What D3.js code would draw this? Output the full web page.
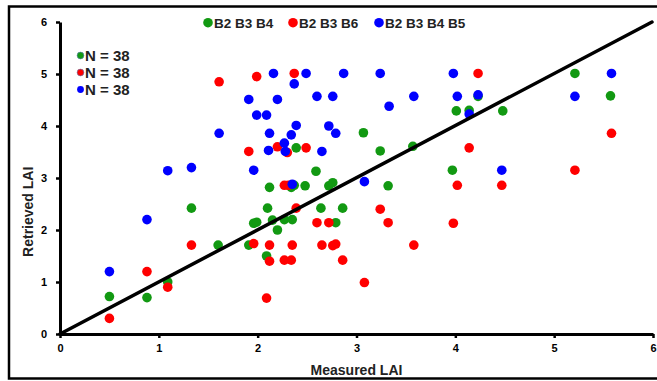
<!DOCTYPE html>
<html>
<head>
<meta charset="utf-8">
<script src="https://cdn.jsdelivr.net/npm/d3@7"></script>
<style>
  html, body { margin: 0; padding: 0; background: #fff; }
  svg { display: block; font-family: "Liberation Sans", Arial, sans-serif; }
</style>
</head>
<body>
<div id="chart"></div>
<script>
// Measured vs retrieved LAI, three band combinations
const seriesNames = ['B2 B3 B4', 'B2 B3 B6', 'B2 B3 B4 B5'];
const seriesColors = ['#129912', '#ff0000', '#0000ff'];

const greenPts = [
  [0.50, 0.72], [0.88, 0.70], [1.09, 1.00], [1.33, 2.42], [1.60, 1.71], [1.91, 1.71],
  [1.96, 2.13], [1.99, 2.15], [2.09, 1.50], [2.10, 2.42], [2.12, 2.82], [2.15, 2.19],
  [2.20, 2.00], [2.27, 2.20], [2.35, 2.20], [2.34, 2.82], [2.37, 2.86], [2.48, 2.85],
  [2.64, 2.42], [2.72, 2.85], [2.76, 2.91], [2.59, 3.13], [3.32, 2.85], [2.86, 2.42],
  [2.79, 2.14], [3.07, 3.87], [3.24, 3.52], [3.57, 3.61], [2.39, 3.58], [5.21, 5.01],
  [5.57, 4.58], [4.01, 4.29], [4.14, 4.30], [4.48, 4.29], [4.23, 4.57], [3.97, 3.15]
];

const redPts = [
  [0.50, 0.30], [0.88, 1.20], [1.09, 0.90], [1.33, 1.71], [1.61, 4.85], [1.99, 4.95],
  [2.37, 5.01], [1.91, 3.51], [2.20, 3.60], [2.49, 3.58], [2.30, 3.49], [2.27, 2.86],
  [2.31, 2.86], [4.23, 5.01], [5.58, 3.86], [4.14, 3.58], [5.21, 3.15], [4.02, 2.86],
  [4.47, 2.86], [1.96, 1.74], [2.12, 1.71], [2.12, 1.40], [2.09, 0.69], [2.27, 1.42],
  [2.34, 1.42], [2.35, 1.71], [2.39, 2.42], [2.60, 2.14], [2.65, 1.71], [2.72, 2.14],
  [3.24, 2.40], [3.32, 2.14], [2.76, 1.70], [2.79, 1.73], [2.86, 1.42], [3.08, 0.99],
  [3.58, 1.71], [3.98, 2.13]
];

const bluePts = [
  [0.50, 1.20], [0.88, 2.20], [1.09, 3.14], [1.33, 3.20], [1.61, 3.86], [1.91, 4.51],
  [1.99, 4.21], [2.09, 4.21], [1.96, 3.15], [2.16, 5.01], [2.20, 4.51], [2.12, 3.86],
  [2.11, 3.53], [2.27, 3.67], [2.28, 3.51], [2.34, 3.83], [2.39, 4.01], [2.37, 4.81],
  [2.49, 5.01], [2.60, 4.57], [2.65, 3.51], [2.72, 4.00], [2.35, 2.88], [2.87, 5.01],
  [3.24, 5.01], [3.98, 5.01], [5.58, 5.01], [2.76, 4.57], [3.33, 4.38], [3.58, 4.57],
  [4.02, 4.57], [4.23, 4.60], [5.21, 4.57], [4.14, 4.23], [2.79, 3.86], [4.47, 3.15],
  [3.08, 2.93]
];

const sampleCounts = [38, 38, 38];
const axisTicks = [0, 1, 2, 3, 4, 5, 6];
const oneToOne = [[0, 0], [6, 6]];

const width = 657, height = 381;
const margin = { top: 22, right: 4, bottom: 47, left: 60 };

const svg = d3.select('#chart').append('svg')
  .attr('width', width)
  .attr('height', height);

// Outer frame
svg.append('rect')
  .attr('x', 9).attr('y', 6.5)
  .attr('width', 660).attr('height', 372)
  .attr('fill', 'none')
  .attr('stroke', '#000')
  .attr('stroke-width', 2.5);

const x = d3.scaleLinear().domain([0, 6]).range([margin.left, width - margin.right]);
const y = d3.scaleLinear().domain([0, 6]).range([height - margin.bottom, margin.top]);

// Axes
const xAxis = svg.append('g')
  .attr('transform', `translate(0,${y(0)})`)
  .call(d3.axisBottom(x).tickValues(axisTicks).tickFormat(d3.format('d'))
    .tickSize(4).tickSizeOuter(0).tickPadding(6));

const yAxis = svg.append('g')
  .attr('transform', `translate(${x(0)},0)`)
  .call(d3.axisLeft(y).tickValues(axisTicks).tickFormat(d3.format('d'))
    .tickSize(4).tickSizeOuter(0).tickPadding(9));

[xAxis, yAxis].forEach((g) => {
  g.select('.domain').attr('stroke', '#000').attr('stroke-width', 3);
  g.selectAll('.tick line').attr('stroke', '#000').attr('stroke-width', 2.5);
  g.selectAll('.tick text')
    .attr('fill', '#000')
    .attr('font-size', '11px')
    .attr('font-weight', 'bold');
});

// Axis titles
svg.append('text')
  .attr('x', x(3)).attr('y', 375)
  .attr('text-anchor', 'middle')
  .attr('font-size', '14px')
  .attr('font-weight', 'bold')
  .attr('fill', '#222')
  .text('Measured LAI');

svg.append('text')
  .attr('transform', `translate(33,${y(2.35)}) rotate(-90)`)
  .attr('text-anchor', 'middle')
  .attr('font-size', '14px')
  .attr('font-weight', 'bold')
  .attr('fill', '#222')
  .text('Retrieved LAI');

// Points: green, red, then blue on top
const allSeries = [greenPts, redPts, bluePts];
allSeries.forEach((pts, i) => {
  svg.append('g')
    .selectAll('circle')
    .data(pts)
    .enter()
    .append('circle')
    .attr('cx', (d) => x(d[0]))
    .attr('cy', (d) => y(d[1]))
    .attr('r', 4.8)
    .attr('fill', seriesColors[i]);
});

// 1:1 line
svg.append('line')
  .attr('x1', x(oneToOne[0][0])).attr('y1', y(oneToOne[0][1]))
  .attr('x2', x(oneToOne[1][0]) - 1).attr('y2', y(oneToOne[1][1]))
  .attr('stroke', '#000')
  .attr('stroke-width', 3.5)
  .attr('stroke-linecap', 'round');

// Top legend
const legendX = [208, 293, 379];
const legend = svg.append('g');
seriesNames.forEach((name, i) => {
  legend.append('circle')
    .attr('cx', legendX[i]).attr('cy', 22.7)
    .attr('r', 4.8)
    .attr('fill', seriesColors[i]);
  legend.append('text')
    .attr('x', legendX[i] + 6).attr('y', 27.5)
    .attr('font-size', '13.5px')
    .attr('font-weight', 'bold')
    .attr('fill', '#222')
    .text(name);
});

// Sample counts
sampleCounts.forEach((n, i) => {
  const cy = 55.5 + i * 17;
  svg.append('circle')
    .attr('cx', 80.5).attr('cy', cy)
    .attr('r', 3.4)
    .attr('fill', seriesColors[i])
    .attr('stroke', i < 2 ? '#5a7ab0' : 'none')
    .attr('stroke-width', 0.6);
  svg.append('text')
    .attr('x', 85).attr('y', cy + 5.5)
    .attr('font-size', '15px')
    .attr('font-weight', 'bold')
    .attr('fill', '#222')
    .text(`N = ${n}`);
});
</script>
</body>
</html>
